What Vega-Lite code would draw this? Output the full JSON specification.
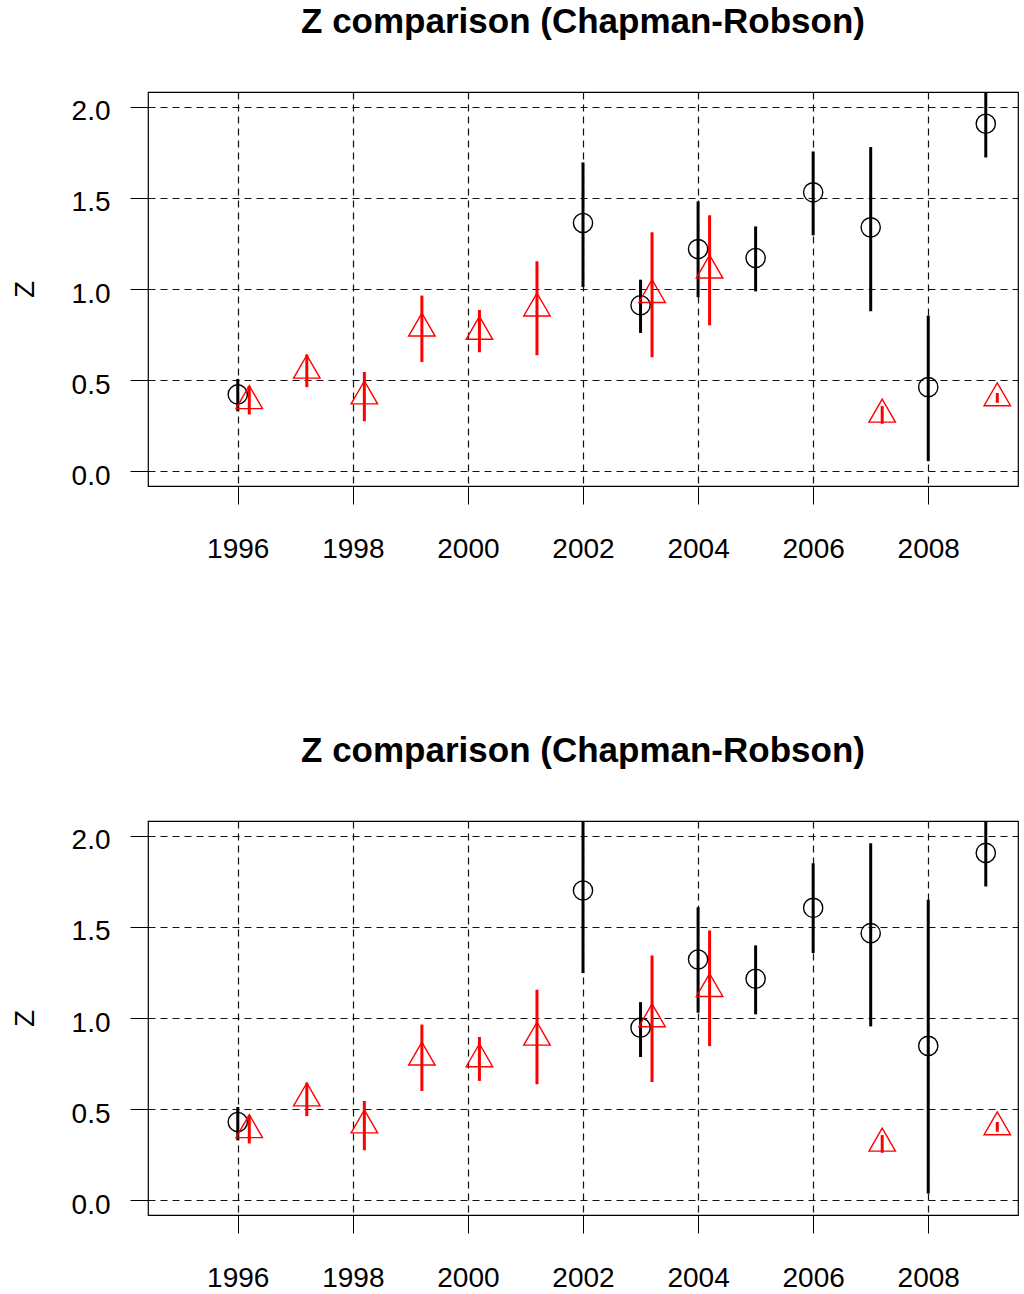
{
  "$schema": "https://vega.github.io/schema/vega-lite/v6.json",
  "autosize": {"type": "pad"},
  "padding": {"left": 10, "top": 4, "right": 6, "bottom": 10},
  "background": "white",
  "config": {
    "view": {"stroke": "black", "strokeWidth": 1.2},
    "axis": {
      "labelFont": "Liberation Sans", "labelFontSize": 28, "labelColor": "black",
      "tickColor": "black", "tickSize": 18, "tickWidth": 1,
      "domain": false, "grid": true, "gridColor": "#111", "gridDash": [7, 5], "gridWidth": 1.2,
      "titleFont": "Liberation Sans", "titleFontSize": 28, "titleFontWeight": "normal", "titleColor": "black",
      "labelOverlap": false, "labelFlush": false, "labelBound": false
    },
    "axisX": {"labelPadding": 31},
    "axisY": {"labelPadding": 20, "titlePadding": 32, "labelBaseline": "middle", "labelOffset": 5},
    "title": {"font": "Liberation Sans", "fontSize": 35, "fontWeight": "bold", "color": "black", "anchor": "middle", "frame": "group", "offset": 52, "baseline": "alphabetic"}
  },
  "datasets": {
    "d": [
      {"panel": 1, "grp": "black", "x": 1996, "z": 0.422, "lo": 0.330, "hi": 0.507},
      {"panel": 1, "grp": "black", "x": 2002, "z": 1.362, "lo": 1.011, "hi": 1.694},
      {"panel": 1, "grp": "black", "x": 2003, "z": 0.911, "lo": 0.759, "hi": 1.051},
      {"panel": 1, "grp": "black", "x": 2004, "z": 1.219, "lo": 0.955, "hi": 1.480},
      {"panel": 1, "grp": "black", "x": 2005, "z": 1.170, "lo": 0.987, "hi": 1.343},
      {"panel": 1, "grp": "black", "x": 2006, "z": 1.530, "lo": 1.294, "hi": 1.754},
      {"panel": 1, "grp": "black", "x": 2007, "z": 1.338, "lo": 0.878, "hi": 1.778},
      {"panel": 1, "grp": "black", "x": 2008, "z": 0.462, "lo": 0.056, "hi": 0.854},
      {"panel": 1, "grp": "black", "x": 2009, "z": 1.906, "lo": 1.721, "hi": 2.091},
      {"panel": 1, "grp": "red", "x": 1996.2, "z": 0.385, "lo": 0.312, "hi": 0.467},
      {"panel": 1, "grp": "red", "x": 1997.2, "z": 0.552, "lo": 0.462, "hi": 0.641},
      {"panel": 1, "grp": "red", "x": 1998.2, "z": 0.411, "lo": 0.275, "hi": 0.545},
      {"panel": 1, "grp": "red", "x": 1999.2, "z": 0.783, "lo": 0.600, "hi": 0.964},
      {"panel": 1, "grp": "red", "x": 2000.2, "z": 0.765, "lo": 0.653, "hi": 0.885},
      {"panel": 1, "grp": "red", "x": 2001.2, "z": 0.893, "lo": 0.637, "hi": 1.152},
      {"panel": 1, "grp": "red", "x": 2003.2, "z": 0.967, "lo": 0.626, "hi": 1.311},
      {"panel": 1, "grp": "red", "x": 2004.2, "z": 1.101, "lo": 0.801, "hi": 1.404},
      {"panel": 1, "grp": "red", "x": 2007.2, "z": 0.311, "lo": 0.261, "hi": 0.358},
      {"panel": 1, "grp": "red", "x": 2009.2, "z": 0.401, "lo": 0.376, "hi": 0.430},
      {"panel": 2, "grp": "black", "x": 1996, "z": 0.430, "lo": 0.330, "hi": 0.512},
      {"panel": 2, "grp": "black", "x": 2002, "z": 1.699, "lo": 1.246, "hi": 2.152},
      {"panel": 2, "grp": "black", "x": 2003, "z": 0.947, "lo": 0.786, "hi": 1.087},
      {"panel": 2, "grp": "black", "x": 2004, "z": 1.321, "lo": 1.029, "hi": 1.607},
      {"panel": 2, "grp": "black", "x": 2005, "z": 1.215, "lo": 1.020, "hi": 1.398},
      {"panel": 2, "grp": "black", "x": 2006, "z": 1.604, "lo": 1.356, "hi": 1.848},
      {"panel": 2, "grp": "black", "x": 2007, "z": 1.465, "lo": 0.954, "hi": 1.958},
      {"panel": 2, "grp": "black", "x": 2008, "z": 0.847, "lo": 0.038, "hi": 1.648},
      {"panel": 2, "grp": "black", "x": 2009, "z": 1.905, "lo": 1.721, "hi": 2.090},
      {"panel": 2, "grp": "red", "x": 1996.2, "z": 0.385, "lo": 0.312, "hi": 0.467},
      {"panel": 2, "grp": "red", "x": 1997.2, "z": 0.559, "lo": 0.462, "hi": 0.645},
      {"panel": 2, "grp": "red", "x": 1998.2, "z": 0.411, "lo": 0.275, "hi": 0.545},
      {"panel": 2, "grp": "red", "x": 1999.2, "z": 0.783, "lo": 0.600, "hi": 0.964},
      {"panel": 2, "grp": "red", "x": 2000.2, "z": 0.774, "lo": 0.655, "hi": 0.896},
      {"panel": 2, "grp": "red", "x": 2001.2, "z": 0.892, "lo": 0.637, "hi": 1.155},
      {"panel": 2, "grp": "red", "x": 2003.2, "z": 0.993, "lo": 0.649, "hi": 1.343},
      {"panel": 2, "grp": "red", "x": 2004.2, "z": 1.159, "lo": 0.846, "hi": 1.480},
      {"panel": 2, "grp": "red", "x": 2007.2, "z": 0.311, "lo": 0.261, "hi": 0.358},
      {"panel": 2, "grp": "red", "x": 2009.2, "z": 0.401, "lo": 0.376, "hi": 0.430}
    ]
  },
  "bounds": "flush",
  "spacing": 335,
  "vconcat": [
    {
      "title": "Z comparison (Chapman-Robson)",
      "width": 870, "height": 394,
      "data": {"name": "d"},
      "transform": [{"filter": "datum.panel == 1"}],
      "encoding": {
        "x": {"field": "x", "type": "quantitative", "scale": {"domain": [1994.44, 2009.56], "nice": false, "zero": false}, "axis": {"values": [1996, 1998, 2000, 2002, 2004, 2006, 2008], "format": "d", "title": null}},
        "color": {"field": "grp", "type": "nominal", "scale": {"domain": ["black", "red"], "range": ["#000000", "#FF0000"]}, "legend": null}
      },
      "layer": [
        {"mark": {"type": "rule", "strokeWidth": 3, "clip": true},
         "encoding": {"y": {"field": "lo", "type": "quantitative", "scale": {"domain": [-0.08, 2.08], "nice": false, "zero": false}, "axis": {"values": [0, 0.5, 1, 1.5, 2], "format": ".1f", "title": "Z"}}, "y2": {"field": "hi"}}},
        {"transform": [{"filter": "datum.grp == 'black'"}],
         "mark": {"type": "point", "shape": "circle", "size": 370, "strokeWidth": 1.4, "filled": false, "opacity": 1},
         "encoding": {"y": {"field": "z", "type": "quantitative"}}},
        {"transform": [{"filter": "datum.grp == 'red'"}],
         "mark": {"type": "point", "shape": "triangle-up", "size": 700, "strokeWidth": 1.4, "filled": false, "opacity": 1, "yOffset": -4},
         "encoding": {"y": {"field": "z", "type": "quantitative"}}}
      ]
    },
    {
      "title": "Z comparison (Chapman-Robson)",
      "width": 870, "height": 394,
      "data": {"name": "d"},
      "transform": [{"filter": "datum.panel == 2"}],
      "encoding": {
        "x": {"field": "x", "type": "quantitative", "scale": {"domain": [1994.44, 2009.56], "nice": false, "zero": false}, "axis": {"values": [1996, 1998, 2000, 2002, 2004, 2006, 2008], "format": "d", "title": null}},
        "color": {"field": "grp", "type": "nominal", "scale": {"domain": ["black", "red"], "range": ["#000000", "#FF0000"]}, "legend": null}
      },
      "layer": [
        {"mark": {"type": "rule", "strokeWidth": 3, "clip": true},
         "encoding": {"y": {"field": "lo", "type": "quantitative", "scale": {"domain": [-0.08, 2.08], "nice": false, "zero": false}, "axis": {"values": [0, 0.5, 1, 1.5, 2], "format": ".1f", "title": "Z"}}, "y2": {"field": "hi"}}},
        {"transform": [{"filter": "datum.grp == 'black'"}],
         "mark": {"type": "point", "shape": "circle", "size": 370, "strokeWidth": 1.4, "filled": false, "opacity": 1},
         "encoding": {"y": {"field": "z", "type": "quantitative"}}},
        {"transform": [{"filter": "datum.grp == 'red'"}],
         "mark": {"type": "point", "shape": "triangle-up", "size": 700, "strokeWidth": 1.4, "filled": false, "opacity": 1, "yOffset": -4},
         "encoding": {"y": {"field": "z", "type": "quantitative"}}}
      ]
    }
  ]
}
